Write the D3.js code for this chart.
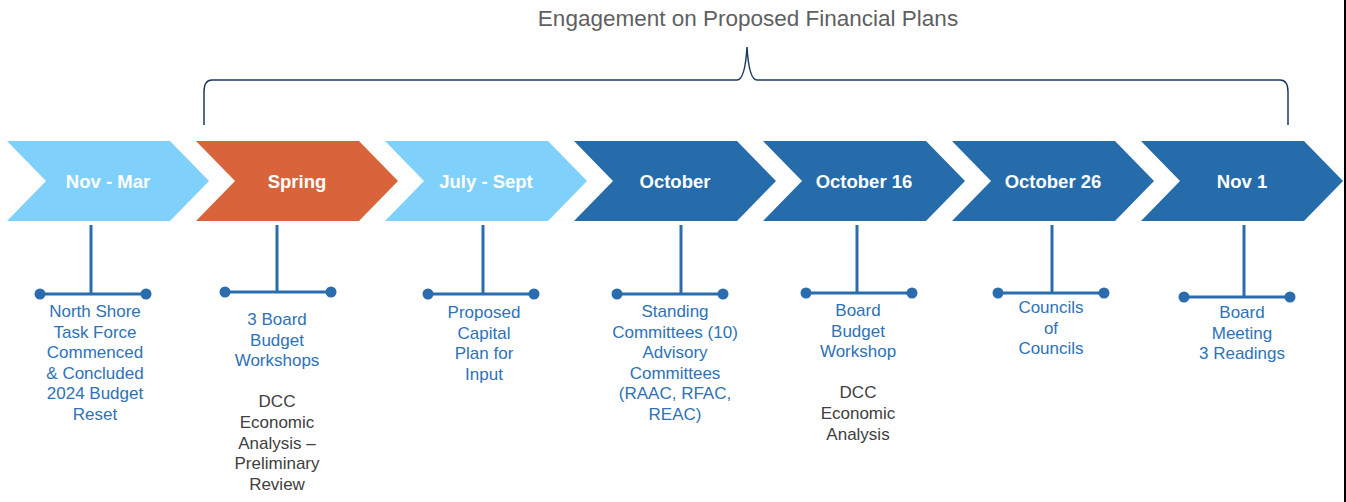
<!DOCTYPE html>
<html>
<head>
<meta charset="utf-8">
<script src="https://cdn.jsdelivr.net/npm/d3@7"></script>
<style>
  html, body { margin: 0; padding: 0; background: #fff; }
  svg { display: block; font-family: "Liberation Sans", Arial, sans-serif; }
</style>
</head>
<body>
<div id="chart"></div>
<script>
// timeline data
const periods = ['Nov - Mar', 'Spring', 'July - Sept', 'October', 'October 16', 'October 26', 'Nov 1']
const phases = ['past', 'current', 'past', 'future', 'future', 'future', 'future']
const descriptions = [
  ['North Shore', 'Task Force', 'Commenced', '& Concluded', '2024 Budget', 'Reset'],
  ['3 Board', 'Budget', 'Workshops'],
  ['Proposed', 'Capital', 'Plan for', 'Input'],
  ['Standing', 'Committees (10)', 'Advisory', 'Committees', '(RAAC, RFAC,', 'REAC)'],
  ['Board', 'Budget', 'Workshop'],
  ['Councils', 'of', 'Councils'],
  ['Board', 'Meeting', '3 Readings']
]
const notes = [
  [],
  ['DCC', 'Economic', 'Analysis \u2013', 'Preliminary', 'Review'],
  [],
  [],
  ['DCC', 'Economic', 'Analysis'],
  [],
  []
]
const bracketTitle = 'Engagement on Proposed Financial Plans'

// layout tweaks per item (offsets from chevron start)
const stemDx = [84, 81, 98, 107, 94, 100, 103]
const barDx = [86, 82, 96, 96, 96, 99, 96]
const barY = [294, 292, 294, 294, 293, 293, 297]
const textY = [317, 325, 318, 317, 316, 313, 318]
const textDx = [88, 81, 99, 101, 95, 99, 101]

const width = 1346,
  height = 502

const color = d3.scaleOrdinal()
  .domain(['past', 'current', 'future'])
  .range(['#7FD0FB', '#D9643C', '#266CAB'])

const x = d3.scaleBand()
  .domain(periods)
  .range([7, 7 + 189 * periods.length])
  .paddingInner(0)

const chevTop = 141, chevBottom = 221, chevMid = 181
const body = 163, tip = 202, notch = 39
const lineH = 20.6

let svg = d3.select('#chart')
  .append('svg')
  .attr('width', width)
  .attr('height', height)

// chevrons
let chev = svg.selectAll('g.chev')
  .data(periods)
  .enter()
  .append('g')
  .attr('class', 'chev')

chev.append('path')
  .attr('d', d => {
    const x0 = x(d)
    return `M${x0},${chevTop}L${x0 + body},${chevTop}L${x0 + tip},${chevMid}L${x0 + body},${chevBottom}L${x0},${chevBottom}L${x0 + notch},${chevMid}Z`
  })
  .attr('fill', (d, i) => color(phases[i]))

chev.append('text')
  .attr('x', d => x(d) + tip / 2)
  .attr('y', 188)
  .attr('text-anchor', 'middle')
  .attr('fill', '#fff')
  .attr('font-weight', 'bold')
  .attr('font-size', '18.5px')
  .text(d => d)

// stems and dumbbells
const blue = '#2A6CAD'
periods.forEach((p, i) => {
  const x0 = x(p)
  const g = svg.append('g')
  g.append('line')
    .attr('x1', x0 + stemDx[i]).attr('x2', x0 + stemDx[i])
    .attr('y1', 225).attr('y2', barY[i])
    .attr('stroke', blue).attr('stroke-width', 3)
  g.append('line')
    .attr('x1', x0 + barDx[i] - 53).attr('x2', x0 + barDx[i] + 53)
    .attr('y1', barY[i]).attr('y2', barY[i])
    .attr('stroke', blue).attr('stroke-width', 3)
  g.selectAll('circle')
    .data([-53, 53])
    .enter()
    .append('circle')
    .attr('cx', d => x0 + barDx[i] + d)
    .attr('cy', barY[i])
    .attr('r', 5.5)
    .attr('fill', blue)

  const t = g.append('text')
    .attr('text-anchor', 'middle')
    .attr('font-size', '17px')
    .attr('fill', '#2E72B8')
  t.selectAll('tspan')
    .data(descriptions[i])
    .enter()
    .append('tspan')
    .attr('x', x0 + textDx[i])
    .attr('y', (d, j) => textY[i] + j * lineH)
    .text(d => d)

  if (notes[i].length) {
    const startY = textY[i] + descriptions[i].length * lineH + 20.5
    const n = g.append('text')
      .attr('text-anchor', 'middle')
      .attr('font-size', '17px')
      .attr('fill', '#404040')
    n.selectAll('tspan')
      .data(notes[i])
      .enter()
      .append('tspan')
      .attr('x', x0 + textDx[i])
      .attr('y', (d, j) => startY + j * lineH)
      .text(d => d)
  }
})

// bracket over the engagement items
const bl = x(periods[1]) + 8, br = x(periods[6]) + 147, peak = 747
const hy = 80, by = 125, py = 47
const bp = d3.path()
bp.moveTo(bl, by)
bp.lineTo(bl, hy + 12)
bp.quadraticCurveTo(bl, hy, bl + 8, hy)
bp.lineTo(peak - 10, hy)
bp.quadraticCurveTo(peak - 2, hy, peak, py)
bp.quadraticCurveTo(peak + 2, hy, peak + 10, hy)
bp.lineTo(br - 8, hy)
bp.quadraticCurveTo(br, hy, br, hy + 12)
bp.lineTo(br, by)
svg.append('path')
  .attr('d', bp.toString())
  .attr('fill', 'none')
  .attr('stroke', '#1F3A5F')
  .attr('stroke-width', 1.5)

svg.append('text')
  .attr('x', 748)
  .attr('y', 26)
  .attr('text-anchor', 'middle')
  .attr('font-size', '22.5px')
  .attr('fill', '#5F5F5F')
  .text(bracketTitle)

// right frame edge
svg.append('line')
  .attr('x1', 1345).attr('x2', 1345)
  .attr('y1', 0).attr('y2', height)
  .attr('stroke', '#000')
  .attr('stroke-width', 2)
</script>
</body>
</html>
